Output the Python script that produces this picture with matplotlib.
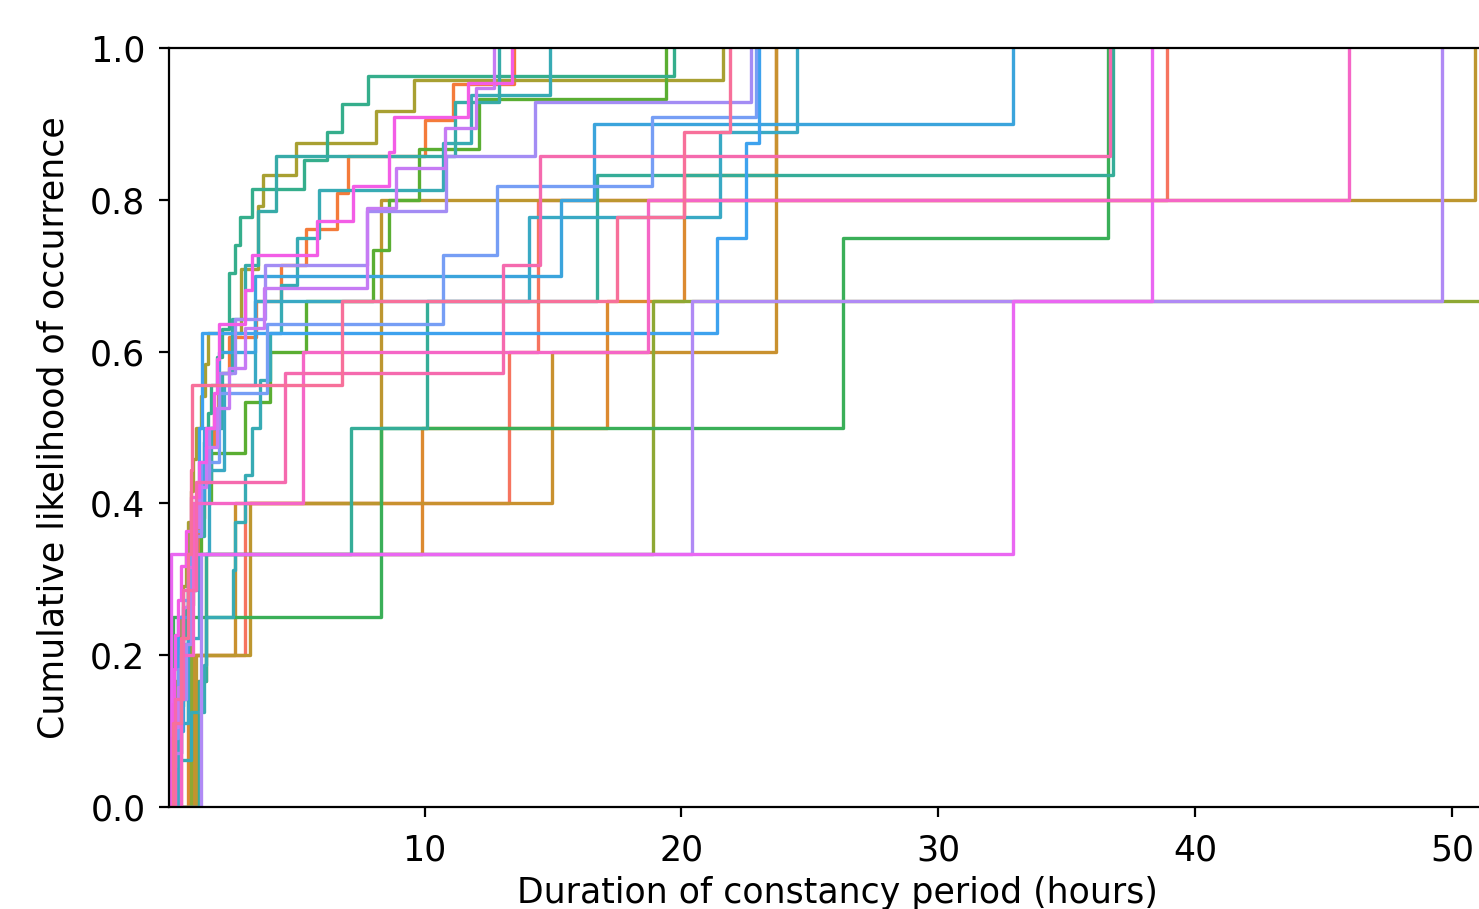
import numpy as np
import matplotlib
matplotlib.use("Agg")
import matplotlib.pyplot as plt

# ---- data: durations (hours) of constancy periods, one list per group ----
red5 = [0.5, 3.0, 13.3, 14.4, 38.9]
orange21 = [0.1, 0.2, 0.3, 0.4, 0.6, 0.8, 1.0, 1.2, 1.4, 1.6, 1.8,
            1.97, 2.4, 3.45, 4.42, 5.4, 6.6, 7.0, 10.0, 11.1, 13.5]
orange6 = [0.8, 1.5, 9.9, 17.1, 20.1, 23.7]
gold5 = [1.0, 2.6, 14.95, 23.7, 23.7]
gold5b = [1.1, 3.2, 8.3, 8.3, 50.9]
olive24 = [0.1, 0.15, 0.2, 0.3, 0.4, 0.5, 0.6, 0.7, 0.8, 0.9, 1.0, 1.1,
           1.3, 1.45, 1.58, 2.87, 2.87, 3.53, 3.53, 3.7, 5.0, 8.1, 9.6, 21.6]
olivegreen3 = [0.9, 18.9, 52.1]
green15 = [0.2, 0.4, 0.6, 0.8, 1.0, 1.3, 1.7, 3.0, 4.0, 5.4, 8.0, 8.6,
           9.8, 12.1, 19.4]
green4 = [0.2, 8.3, 26.3, 36.6]
tealgreen27 = [0.1, 0.2, 0.3, 0.4, 0.5, 0.6, 0.7, 0.8, 0.9, 1.0, 1.1, 1.25,
               1.4, 1.55, 1.7, 1.9, 2.1, 2.4, 2.4, 2.6, 2.8, 3.3, 5.3, 6.2,
               6.8, 7.8, 19.7]
tealgreen6 = [1.2, 1.5, 7.15, 10.1, 16.7, 36.8]
teal16 = [0.3, 0.9, 1.4, 1.5, 2.55, 2.6, 3.0, 3.3, 3.6, 4.0, 4.4, 5.05,
          5.9, 10.7, 11.8, 14.9]
teal14 = [0.3, 0.5, 0.7, 0.9, 1.1, 1.4, 1.7, 2.1, 2.5, 3.0, 3.5, 4.2,
          11.2, 12.9]
tealblue9 = [0.4, 0.8, 1.2, 1.6, 2.2, 3.4, 14.05, 21.5, 24.5]
blue10 = [0.3, 0.6, 0.8, 1.1, 1.4, 2.0, 3.4, 15.3, 16.6, 32.9]
blue8 = [0.2, 0.4, 0.9, 1.2, 1.35, 21.4, 22.5, 23.0]
peri11 = [0.2, 0.4, 0.6, 0.9, 1.3, 2.0, 3.85, 10.7, 12.8, 18.85, 22.9]
lav14 = [0.3, 0.5, 0.7, 0.9, 1.1, 1.3, 1.6, 2.0, 2.6, 3.8, 7.75, 10.85,
         14.3, 22.7]
lav3 = [1.3, 20.4, 49.6]
purple19 = [0.2, 0.3, 0.4, 0.5, 0.6, 0.8, 1.0, 1.2, 1.5, 1.9, 2.4, 3.0,
            3.76, 7.75, 7.75, 8.9, 10.8, 12.0, 12.7]
magenta3 = [0.12, 32.9, 38.3]
magenta22 = [0.1, 0.15, 0.2, 0.25, 0.3, 0.4, 0.5, 0.7, 0.9, 1.2, 1.5, 1.8,
             1.9, 2.0, 3.0, 3.3, 5.8, 7.2, 8.6, 8.8, 11.7, 13.4]
pink5 = [0.5, 1.0, 5.25, 18.7, 46.0]
hotpink7 = [0.3, 0.6, 1.1, 4.55, 13.05, 14.5, 36.7]
pink9 = [0.2, 0.5, 0.8, 0.9, 0.95, 6.8, 17.5, 20.1, 21.9]

groups = [red5, orange21, orange6, gold5, gold5b, olive24, olivegreen3,
          green15, green4, tealgreen27, tealgreen6, teal16, teal14,
          tealblue9, blue10, blue8, peri11, lav14, lav3, purple19,
          magenta3, magenta22, pink5, hotpink7, pink9]
colors = ["#f6745f", "#f47b3a", "#dc8a30", "#c9912f", "#bd962f", "#a8a032",
          "#8ea833", "#5aae32", "#3aaf58", "#35ae8c", "#35ad98", "#37abb4",
          "#37aba8", "#39a9c4", "#3ba4dc", "#3ea2ee", "#769ef5", "#a38cf4",
          "#b08af5", "#c67bf4", "#ea67f2", "#f35de6", "#f566c6", "#f56aae",
          "#f7709a"]

# ---- plot ----
fig = plt.figure(figsize=(7.395, 4.545), dpi=200)
ax = fig.add_axes([169 / 1479, 102 / 909, 1337 / 1479, 759 / 909])

for vals, col in zip(groups, colors):
    x = np.sort(np.asarray(vals, dtype=float))
    n = len(x)
    y = np.arange(1, n + 1) / n
    ax.step(np.r_[-10.0, x], np.r_[0.0, y], where="post", color=col, lw=1.2)

ax.set_xlim(0.05, 52.1)
ax.set_ylim(0, 1)
ax.set_xticks([10, 20, 30, 40, 50])
ax.set_yticks([0, 0.2, 0.4, 0.6, 0.8, 1.0])
ax.set_yticklabels(["0.0", "0.2", "0.4", "0.6", "0.8", "1.0"])
ax.tick_params(labelsize=12.5)
ax.tick_params(axis="x", pad=6)
ax.tick_params(axis="y", pad=5)
ax.set_xlabel("Duration of constancy period (hours)", fontsize=12.5, labelpad=3)
ax.set_ylabel("Cumulative likelihood of occurrence", fontsize=12.5, labelpad=7)

fig.savefig("out.png", dpi=200)
